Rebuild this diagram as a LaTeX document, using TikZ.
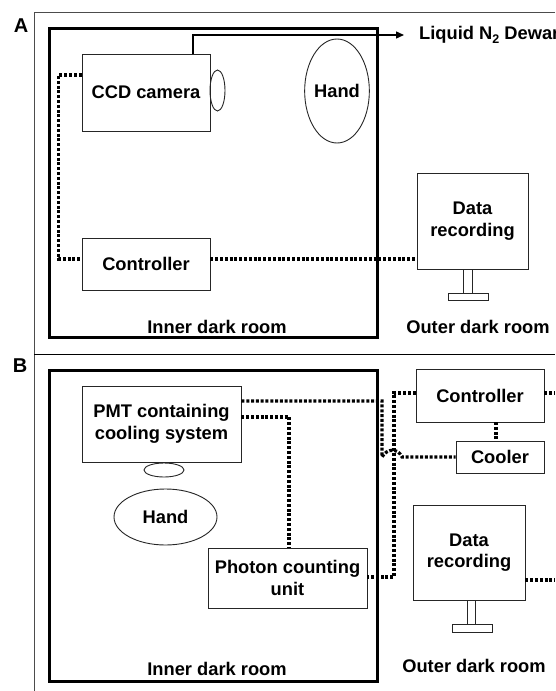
\documentclass[tikz,border=0pt]{standalone}
\usepackage{fontspec}
\setmainfont{Liberation Sans}
\usetikzlibrary{arrows.meta,calc,shapes.geometric}

\tikzset{
  lbl/.style={font=\fontsize{18.3}{21.5}\selectfont\bfseries, inner sep=0pt, align=center},
  panel/.style={font=\fontsize{20}{22}\selectfont\bfseries, inner sep=0pt},
  unitbox/.style={draw=black!85, line width=0.9pt, inner sep=0pt, lbl},
  lens/.style={draw=black!85, line width=0.9pt, ellipse, inner sep=0pt},
  room/.style={draw=black, line width=3pt},
  frame/.style={line width=1pt},
  wire/.style={line width=3.2pt, dash pattern=on 3pt off 1.8pt},
  pipe/.style={line width=1.4pt, -{Triangle[length=8pt,width=7pt]}},
  stand/.style={draw=black!85, line width=0.9pt}
}

\begin{document}
\begin{tikzpicture}[x=1pt, y=-1pt]
\useasboundingbox (0,0) rectangle (555,691);
\fill[white] (0,0) rectangle (555,691);

% panel frames
\draw[frame, black!70] (555,12) -- (34,12) -- (34,691);
\draw[frame] (34,354) -- (555,354);
\node[panel] (labA) at (21,26) {A};
\node[panel] (labB) at (20,366) {B};

% ---------------- panel A: CCD set-up ----------------
\draw[room] (49,28) rectangle (377,337);
\node[lbl] (innerA) at (217,327) {Inner dark room};
\node[lbl] (outerA) at (478,327) {Outer dark room};

\node[unitbox, minimum width=128, minimum height=77] (cam) at (146,92.5) {CCD camera};
\node[lens, minimum width=15, minimum height=41] (camlens) at (217.5,90.5) {};
\node[lens, lbl, minimum width=64, minimum height=104] (handA) at (337,91) {Hand};
\node[unitbox, minimum width=128, minimum height=52] (ctrlA) at (146,264) {Controller};
\node[unitbox, minimum width=111, minimum height=96] (dataA) at (472.5,221) {Data\\recording};
\draw[stand] (463,269) rectangle (472,293);
\draw[stand] (448,293) rectangle (488,300);

% liquid nitrogen line
\coordinate (n2top) at (193,54);
\coordinate (n2bend) at (193,35);
\coordinate (n2end) at (404,35);
\draw[pipe] (n2top) -- (n2bend) -- (n2end);
\node[lbl, anchor=west] (dewar) at (419,35) {Liquid N\raisebox{-0.35ex}{\fontsize{12.5}{12.5}\selectfont 2} Dewar};

% signal cables
\draw[wire] ([yshift=17.5pt]cam.west) -- ++(-23,0) |- ([yshift=5pt]ctrlA.west);
\draw[wire] ([yshift=5pt]ctrlA.east) -- ([yshift=5pt]ctrlA.east -| dataA.west);

% ---------------- panel B: PMT set-up ----------------
\draw[room] (49,370) rectangle (377,681);
\node[lbl] (innerB) at (217,669) {Inner dark room};
\node[lbl] (outerB) at (474,666) {Outer dark room};

\node[unitbox, minimum width=159, minimum height=76] (pmt) at (161.5,424) {PMT containing\\cooling system};
\node[lens, minimum width=40, minimum height=14] (pmtwin) at (164,470) {};
\node[lens, lbl, minimum width=103, minimum height=56] (handB) at (165.5,517) {Hand};
\node[unitbox, minimum width=159, minimum height=60] (pcu) at (287.5,578) {Photon counting\\unit};
\node[unitbox, minimum width=128, minimum height=53] (ctrlB) at (480,395.5) {Controller};
\node[unitbox, minimum width=88, minimum height=32] (cooler) at (500,457) {Cooler};
\node[unitbox, minimum width=112, minimum height=95] (dataB) at (469,552.5) {Data\\recording};
\draw[stand] (467,600) rectangle (475,624);
\draw[stand] (452,624) rectangle (492,632);

% cables in panel B
\coordinate (edgeC) at (555,393);
\coordinate (edgeD) at (555,580);
\draw[wire] ([yshift=23pt]pmt.east) -- (382,401) -- (382,457)
  .. controls (387,448) and (398,448) .. (402,457) -- (cooler.west);
\draw[wire] ([yshift=7pt]pmt.east) -- (289,417) -- (289,548);
\draw[wire] ([yshift=2.5pt]ctrlB.west) -- (394,393) -- (394,577) -- ([yshift=1pt]pcu.east);
\draw[wire] ([yshift=2.5pt]ctrlB.east) -- (edgeC);
\draw[wire] (496,422) -- (496,441);
\draw[wire] ([yshift=-27.5pt]dataB.east) -- (edgeD);
\end{tikzpicture}
\end{document}
